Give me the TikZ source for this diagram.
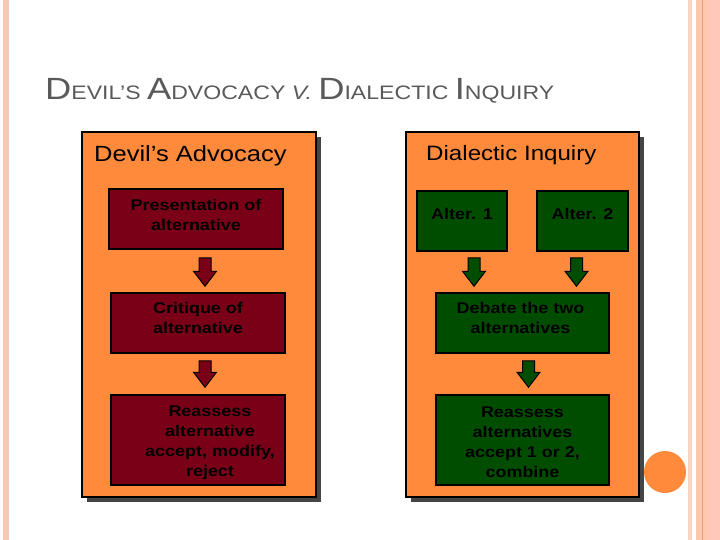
\documentclass[tikz,border=0pt]{standalone}
\usepackage{fontspec}
\setmainfont{Liberation Sans}[FakeStretch=1.16]
\usetikzlibrary{shadows,calc}
\definecolor{panelorange}{HTML}{FF8A3C}
\definecolor{darkred}{HTML}{7A0018}
\definecolor{darkgreen}{HTML}{004D00}
\definecolor{shadowgray}{HTML}{454545}
\definecolor{titlegray}{HTML}{5A5A5A}
\definecolor{stripeA}{HTML}{F8C8B4}
\definecolor{stripeB}{HTML}{FBD3C2}
\definecolor{stripeC}{HTML}{FFC6AE}
\definecolor{stripeD}{HTML}{E3A07E}
\definecolor{stripeE}{HTML}{FFC8B8}
\newcommand\bigsc[1]{{\fontsize{30.7}{30.7}\selectfont #1}}
\newcommand\smsc[1]{{\fontsize{19.5}{19.5}\selectfont #1}}
\newcommand\blockarr[3]{%
  \draw[fill=#1, draw=black, line width=1pt, line join=miter]
    let \p1=(#2), \p2=(#3) in
    (\x1-6pt,\y1) -- (\x1+6pt,\y1) -- (\x1+6pt,\y2+15pt) -- (\x1+11.5pt,\y2+15pt)
    -- (\x1,\y2) -- (\x1-11.5pt,\y2+15pt) -- (\x1-6pt,\y2+15pt) -- cycle;}
\tikzset{
  panel/.style={fill=panelorange, draw=black, line width=2pt,
    general shadow={fill=shadowgray, shadow xshift=5pt, shadow yshift=-5pt}},
  panelhead/.style={anchor=base west, text=black, inner sep=0pt},
  redbox/.style={fill=darkred, draw=black, line width=1.5pt, minimum width=174pt, inner sep=0pt},
  greenbox/.style={fill=darkgreen, draw=black, line width=1.5pt, inner sep=0pt},
  boxtext/.style={align=center, font=\fontsize{15.5}{20}\selectfont\bfseries, text=black, inner sep=0pt},
}
\begin{document}
\begin{tikzpicture}[x=1pt,y=-1pt]
\useasboundingbox (0,0) rectangle (720,540);
\fill[white] (0,0) rectangle (720,540);
% decorative stripes
\fill[stripeA] (3,0) rectangle (9,540);
\fill[stripeB] (688,0) rectangle (692,540);
\fill[stripeC] (696,0) rectangle (702,540);
\fill[stripeD] (702,0) rectangle (703.2,540);
\fill[stripeC] (703.2,0) rectangle (708,540);
\fill[stripeE] (708,0) rectangle (720,540);
% title
\node[anchor=base west, inner sep=0pt, text=titlegray] (title) at (45,100)
  {\scalebox{1.02}[1]{\bigsc{D}\smsc{EVIL’S }\bigsc{A}\smsc{DVOCACY }\smsc{\itshape V.\ }\bigsc{D}\smsc{IALECTIC }\bigsc{I}\smsc{NQUIRY}}};
% panels
\node[panel, minimum width=234pt, minimum height=365pt] (lp) at (199,314.5) {};
\node[panel, minimum width=233pt, minimum height=365pt] (rp) at (522.5,314.5) {};
\node[panelhead, font=\fontsize{22}{22}\selectfont] (lph) at (94,162) {Devil’s Advocacy};
\node[panelhead, font=\fontsize{20.8}{21}\selectfont] (rph) at (426,161) {Dialectic Inquiry};
% left column
\node[redbox, minimum height=60pt] (l1) at (196,219) {};
\node[redbox, minimum height=60pt] (l2) at (198,323) {};
\node[redbox, minimum height=90pt] (l3) at (198,440) {};
\node[boxtext] (l1t) at ($(l1)+(0,-4)$) {Presentation of\\alternative};
\node[boxtext] (l2t) at ($(l2)+(0,-5)$) {Critique of\\alternative};
\node[boxtext] (l3t) at ($(l3)+(12,2.5)$) {Reassess\\alternative\\accept, modify,\\reject};
\blockarr{darkred}{$(l1.south)+(9,8)$}{$(l2.north)+(7,-6)$}
\blockarr{darkred}{$(l2.south)+(7,7)$}{$(l3.north)+(7,-7)$}
% right column
\node[greenbox, minimum width=90pt, minimum height=60pt] (r1) at (462,221) {};
\node[greenbox, minimum width=91pt, minimum height=60pt] (r2) at (582.5,221) {};
\node[greenbox, minimum width=173pt, minimum height=60pt] (r3) at (522.5,323) {};
\node[greenbox, minimum width=173pt, minimum height=90pt] (r4) at (522.5,440) {};
\node[boxtext] (r1t) at ($(r1)+(0,-7)$) {Alter. 1};
\node[boxtext] (r2t) at ($(r2)+(0,-7)$) {Alter. 2};
\node[boxtext] (r3t) at ($(r3)+(-2,-5)$) {Debate the two\\alternatives};
\node[boxtext] (r4t) at ($(r4)+(0,2.5)$) {Reassess\\alternatives\\accept 1 or 2,\\combine};
\blockarr{darkgreen}{$(r1.south)+(12,6)$}{$(r3.north)+(-48.5,-6)$}
\blockarr{darkgreen}{$(r2.south)+(-6,6)$}{$(r3.north)+(54,-6)$}
\blockarr{darkgreen}{$(r3.south)+(6,7)$}{$(r4.north)+(6,-7)$}
% decorative circle
\fill[panelorange] (665,472) circle (21);
\end{tikzpicture}
\end{document}
